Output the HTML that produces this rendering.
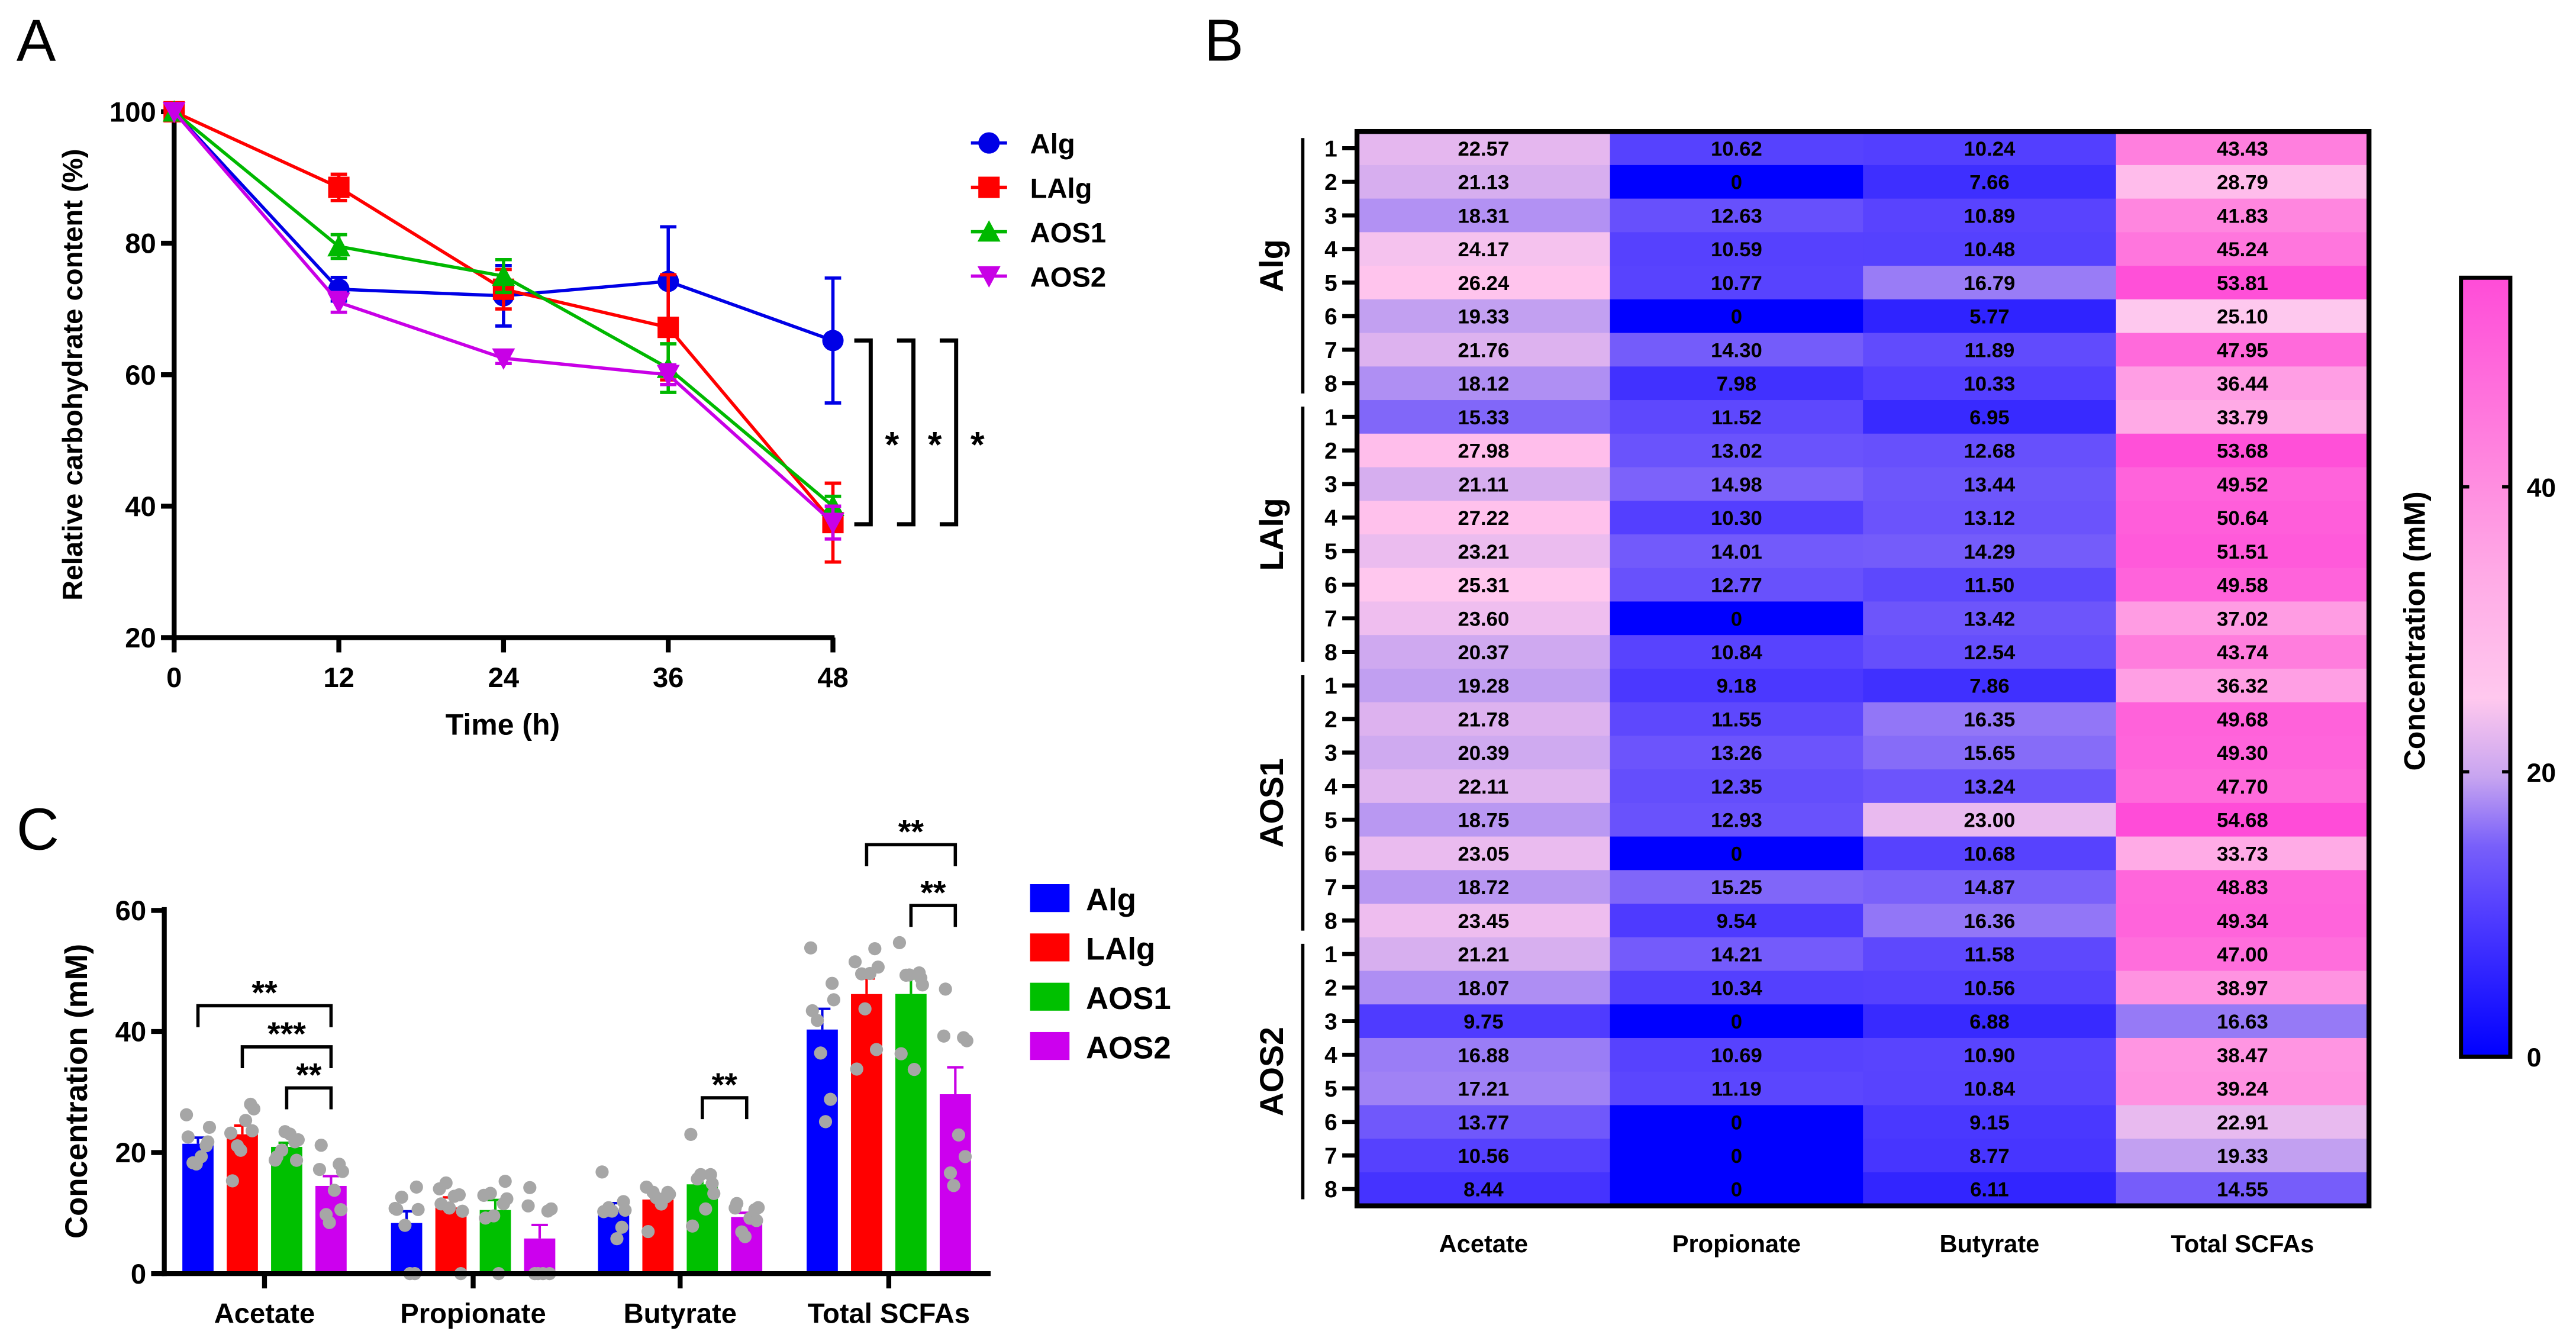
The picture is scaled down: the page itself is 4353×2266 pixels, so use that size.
<!DOCTYPE html>
<html><head><meta charset="utf-8"><style>
html,body{margin:0;padding:0;background:#fff}
svg{display:block}
text{font-family:"Liberation Sans",Arial,sans-serif;font-weight:bold;fill:#000}
</style></head><body>
<svg id="fig" xmlns="http://www.w3.org/2000/svg" width="4353" height="2266" viewBox="0 0 1568 816" preserveAspectRatio="none">
<rect x="0" y="0" width="1568" height="816" fill="#fff"/>
<text x="10" y="37" font-size="36" font-weight="normal" style="font-weight:normal">A</text>
<text x="733" y="37" font-size="36" style="font-weight:normal">B</text>
<text x="10" y="517" font-size="36" style="font-weight:normal">C</text>
<g id="pa"></g>
<g id="pc"></g>
<g id="pb"></g>
</svg>
<script>
// ---------- Panel A data ----------
const aTimes = [0, 12, 24, 36, 48];
const aSeriesNames = ["Alg", "LAlg", "AOS1", "AOS2"];
const aAlg = [100, 73, 72, 74.2, 65.2];
const aAlgErr = [0, 1.8, 4.6, 8.3, 9.5];
const aLAlg = [100, 88.5, 73, 67.2, 37.5];
const aLAlgErr = [0, 2, 3, 8, 6];
const aAOS1 = [100, 79.5, 75, 61, 40];
const aAOS1Err = [0, 1.8, 2.5, 3.7, 1.5];
const aAOS2 = [100, 71, 62.5, 60, 37.5];
const aAOS2Err = [0, 1.5, 0.8, 1.5, 2.5];
const aYTicks = [20, 40, 60, 80, 100];

// ---------- Heatmap / bar data ----------
const hmColumns = ["Acetate", "Propionate", "Butyrate", "Total SCFAs"];
const hmGroups = ["Alg", "LAlg", "AOS1", "AOS2"];
const acetate = [22.57,21.13,18.31,24.17,26.24,19.33,21.76,18.12, 15.33,27.98,21.11,27.22,23.21,25.31,23.60,20.37, 19.28,21.78,20.39,22.11,18.75,23.05,18.72,23.45, 21.21,18.07,9.75,16.88,17.21,13.77,10.56,8.44];
const propionate = [10.62,0,12.63,10.59,10.77,0,14.30,7.98, 11.52,13.02,14.98,10.30,14.01,12.77,0,10.84, 9.18,11.55,13.26,12.35,12.93,0,15.25,9.54, 14.21,10.34,0,10.69,11.19,0,0,0];
const butyrate = [10.24,7.66,10.89,10.48,16.79,5.77,11.89,10.33, 6.95,12.68,13.44,13.12,14.29,11.50,13.42,12.54, 7.86,16.35,15.65,13.24,23.00,10.68,14.87,16.36, 11.58,10.56,6.88,10.90,10.84,9.15,8.77,6.11];
const totalScfa = [43.43,28.79,41.83,45.24,53.81,25.10,47.95,36.44, 33.79,53.68,49.52,50.64,51.51,49.58,37.02,43.74, 36.32,49.68,49.30,47.70,54.68,33.73,48.83,49.34, 47.00,38.97,16.63,38.47,39.24,22.91,19.33,14.55];
const cbTicks = [0, 20, 40];
const cYTicks = [0, 20, 40, 60];

const NS = "http://www.w3.org/2000/svg";
function mk(parent, tag, attrs, txt) {
  const e = document.createElementNS(NS, tag);
  for (const k in attrs) e.setAttribute(k, attrs[k]);
  if (txt !== undefined) e.textContent = txt;
  parent.appendChild(e);
  return e;
}
const colors = ["#0000e6", "#ff0000", "#00b800", "#c800e6"];

// ================= Panel A =================
(function () {
  const g = document.getElementById("pa");
  const xA = t => 106 + t * (401 / 48);
  const yA = v => 388 - (v - 20) * 4;
  const series = [aAlg, aLAlg, aAOS1, aAOS2];
  const errs = [aAlgErr, aLAlgErr, aAOS1Err, aAOS2Err];
  // axes
  let ax = mk(g, "line", {x1: 106, y1: 66, x2: 106, y2: 389.5, stroke: "#000", "stroke-width": 3});
   
  ax = mk(g, "line", {x1: 104.5, y1: 388, x2: 508, y2: 388, stroke: "#000", "stroke-width": 3});
   
  aYTicks.forEach(v => {
    mk(g, "line", {x1: 98, y1: yA(v), x2: 106, y2: yA(v), stroke: "#000", "stroke-width": 3});
    const t = mk(g, "text", {x: 95, y: yA(v) + 6, "font-size": 17, "text-anchor": "end"}, v);
     
  });
  aTimes.forEach(tm => {
    mk(g, "line", {x1: xA(tm), y1: 388, x2: xA(tm), y2: 397, stroke: "#000", "stroke-width": 3});
    const t = mk(g, "text", {x: xA(tm), y: 418, "font-size": 17, "text-anchor": "middle"}, tm);
     
  });
  let t = mk(g, "text", {x: 306, y: 447, "font-size": 18, "text-anchor": "middle"}, "Time (h)");
   
  t = mk(g, "text", {x: 0, y: 0, "font-size": 17, "text-anchor": "middle", transform: "translate(50,228) rotate(-90)"}, "Relative carbohydrate content (%)");
   
  function marker(p, i, x, y, name) {
    let m;
    if (i === 0) m = mk(p, "circle", {cx: x, cy: y, r: 6.5, fill: colors[i]});
    else if (i === 1) m = mk(p, "rect", {x: x - 6.5, y: y - 6.5, width: 13, height: 13, fill: colors[i]});
    else if (i === 2) m = mk(p, "polygon", {points: `${x},${y-7} ${x+7},${y+6} ${x-7},${y+6}`, fill: colors[i]});
    else m = mk(p, "polygon", {points: `${x},${y+7} ${x+7},${y-6} ${x-7},${y-6}`, fill: colors[i]});
     
  }
  series.forEach((s, i) => {
    const sg = mk(g, "g", {});
     
    const pts = s.map((v, k) => xA(aTimes[k]) + "," + yA(v)).join(" ");
    const pl = mk(sg, "polyline", {points: pts, fill: "none", stroke: colors[i], "stroke-width": 2});
     
    s.forEach((v, k) => {
      const e = errs[i][k];
      if (e > 0) {
        const x = xA(aTimes[k]);
        const eb = mk(sg, "path", {d: `M${x},${yA(v+e)}V${yA(v-e)}M${x-5},${yA(v+e)}H${x+5}M${x-5},${yA(v-e)}H${x+5}`, stroke: colors[i], "stroke-width": 2, fill: "none"});
         
      }
      marker(sg, i, xA(aTimes[k]), yA(v), 'a-point');
    });
  });
  // significance brackets
  const yTop = yA(aAlg[4]) , yBot = yA(aLAlg[4]) + 1;
  [530, 556, 582].forEach((bx, j) => {
    const b = mk(g, "path", {d: `M${bx-10},${yTop}H${bx}V${yBot}H${bx-10}`, stroke: "#000", "stroke-width": 2.5, fill: "none"});
     
    const s = mk(g, "text", {x: bx + 13, y: 278, "font-size": 22, "text-anchor": "middle"}, "*");
     
  });
  // legend
  aSeriesNames.forEach((n, i) => {
    const y = 87 + i * 27;
    const lg = mk(g, "g", {});
     
    mk(lg, "line", {x1: 591, y1: y, x2: 613, y2: y, stroke: colors[i], "stroke-width": 2});
    marker(lg, i, 602, y, 'a-legend-marker');
    mk(lg, "text", {x: 627, y: y + 6.5, "font-size": 17}, n);
  });
})();

// ================= Panel C =================
(function () {
  const g = document.getElementById("pc");
  const yC = v => 775 - v * (221 / 60);
  const groupX = [161, 288, 414, 541];
  const offs = [-40.5, -13.5, 13.5, 40.5];
  const bw = 19;
  const cols = [acetate, propionate, butyrate, totalScfa];
  let ax = mk(g, "line", {x1: 100, y1: 552, x2: 100, y2: 776.5, stroke: "#000", "stroke-width": 3});
   
  cYTicks.forEach(v => {
    mk(g, "line", {x1: 92, y1: yC(v), x2: 100, y2: yC(v), stroke: "#000", "stroke-width": 3});
    const t = mk(g, "text", {x: 89, y: yC(v) + 6, "font-size": 17, "text-anchor": "end"}, v);
     
  });
  let t = mk(g, "text", {x: 0, y: 0, "font-size": 19, "text-anchor": "middle", transform: "translate(53,664) rotate(-90)"}, "Concentration (mM)");
   
  const jit = [-6, 5, -3, 7, -7, 2, 6, -1];
  hmColumns.forEach((c, ci) => {
    const cg = mk(g, "g", {});
     
    hmGroups.forEach((gn, gi) => {
      const vals = cols[ci].slice(gi * 8, gi * 8 + 8);
      const mean = vals.reduce((a, b) => a + b, 0) / 8;
      const sd = Math.sqrt(vals.reduce((a, b) => a + (b - mean) ** 2, 0) / 7);
      const sem = sd / Math.sqrt(8);
      const cx = groupX[ci] + offs[gi];
      const bar = mk(cg, "rect", {x: cx - bw / 2, y: yC(mean), width: bw, height: yC(0) - yC(mean), fill: colors[gi] === "#0000e6" ? "#0000ff" : (gi === 2 ? "#00c000" : (gi === 3 ? "#cc00ee" : "#ff0000"))});
       
      const eb = mk(cg, "path", {d: `M${cx},${yC(mean)}V${yC(mean+sem)}M${cx-5},${yC(mean+sem)}H${cx+5}`, stroke: colors[gi], "stroke-width": 1.5, fill: "none"});
       
      vals.forEach((v, k) => {
        const d = mk(cg, "circle", {cx: cx + jit[k], cy: yC(v), r: 4, fill: "#a6a6a6"});
         
      });
    });
    mk(g, "line", {x1: groupX[ci], y1: 775, x2: groupX[ci], y2: 784, stroke: "#000", "stroke-width": 3});
    const lt = mk(g, "text", {x: groupX[ci], y: 805, "font-size": 17, "text-anchor": "middle"}, c);
     
  });
  ax = mk(g, "line", {x1: 98.5, y1: 775, x2: 603, y2: 775, stroke: "#000", "stroke-width": 3});
   
  // significance
  const sig = [
    [161 - 40.5, 161 + 40.5, 612, "**"],
    [161 - 13.5, 161 + 40.5, 637, "***"],
    [161 + 13.5, 161 + 40.5, 662, "**"],
    [414 + 13.5, 414 + 40.5, 668, "**"],
    [541 - 13.5, 541 + 40.5, 514, "**"],
    [541 + 13.5, 541 + 40.5, 551, "**"]
  ];
  sig.forEach(s => {
    const b = mk(g, "path", {d: `M${s[0]},${s[2]+13}V${s[2]}H${s[1]}V${s[2]+13}`, stroke: "#000", "stroke-width": 2, fill: "none"});
     
    const st = mk(g, "text", {x: (s[0] + s[1]) / 2, y: s[2] - 1, "font-size": 20, "text-anchor": "middle"}, s[3]);
     
  });
  const lcols = ["#0000ff", "#ff0000", "#00c000", "#cc00ee"];
  hmGroups.forEach((n, i) => {
    const y = 538 + i * 30;
    const lg = mk(g, "g", {});
     
    mk(lg, "rect", {x: 627, y: y, width: 24, height: 17, fill: lcols[i]});
    mk(lg, "text", {x: 661, y: y + 16, "font-size": 19}, n);
  });
})();

// ================= Panel B heatmap =================
(function () {
  const g = document.getElementById("pb");
  const x0 = 826, y0 = 80, cw = 154, rh = 20.43;
  const cols = [acetate, propionate, butyrate, totalScfa];
  const vmax = 54.68;
  const stops = [[0, [0, 0, 255]], [0.18, [80, 60, 255]], [0.27, [120, 95, 250]], [0.36, [200, 165, 240]], [0.46, [255, 200, 238]], [0.62, [255, 170, 230]], [0.78, [255, 130, 222]], [1, [255, 76, 216]]];
  function color(v) {
    const f = Math.max(0, Math.min(1, v / vmax));
    for (let i = 1; i < stops.length; i++) {
      if (f <= stops[i][0]) {
        const a = stops[i - 1], b = stops[i];
        const u = (f - a[0]) / (b[0] - a[0]);
        const c = a[1].map((q, k) => Math.round(q + (b[1][k] - q) * u));
        return `rgb(${c[0]},${c[1]},${c[2]})`;
      }
    }
    return "rgb(255,76,216)";
  }
  cols.forEach((arr, ci) => {
    arr.forEach((v, r) => {
      const cell = mk(g, "rect", {x: x0 + ci * cw, y: y0 + r * rh, width: cw + 0.5, height: rh + 0.5, fill: color(v)});
       
      const t = mk(g, "text", {x: x0 + ci * cw + cw / 2, y: y0 + r * rh + rh / 2 + 4.5, "font-size": 12.5, "text-anchor": "middle"}, v === 0 ? "0" : v.toFixed(2));
       
    });
    const lt = mk(g, "text", {x: x0 + ci * cw + cw / 2, y: 762, "font-size": 15, "text-anchor": "middle"}, hmColumns[ci]);
     
  });
  const frame = mk(g, "rect", {x: x0, y: y0, width: cw * 4, height: rh * 32, fill: "none", stroke: "#000", "stroke-width": 3});
   
  for (let r = 0; r < 32; r++) {
    const y = y0 + r * rh + rh / 2;
    mk(g, "line", {x1: 817, y1: y, x2: x0, y2: y, stroke: "#000", "stroke-width": 2.5});
    const t = mk(g, "text", {x: 814, y: y + 5, "font-size": 14, "text-anchor": "end"}, (r % 8) + 1);
     
  }
  hmGroups.forEach((n, gi) => {
    const ya = y0 + gi * 8 * rh + 4, yb = y0 + (gi * 8 + 8) * rh - 4;
    const l = mk(g, "line", {x1: 793, y1: ya, x2: 793, y2: yb, stroke: "#000", "stroke-width": 2});
     
    const t = mk(g, "text", {x: 0, y: 0, "font-size": 20, "text-anchor": "middle", transform: `translate(781,${(ya + yb) / 2}) rotate(-90)`}, n);
     
  });
  // colorbar
  const cbx = 1498, cbTop = 169, cbBot = 643, cbw = 30;
  const yCb = v => cbBot - (v / vmax) * (cbBot - cbTop);
  const defs = mk(g, "defs", {});
  const lg = mk(defs, "linearGradient", {id: "cbg", x1: 0, y1: 1, x2: 0, y2: 0});
  stops.forEach(s => mk(lg, "stop", {offset: s[0], "stop-color": `rgb(${s[1].join(",")})`}));
  const cb = mk(g, "rect", {x: cbx, y: cbTop, width: cbw, height: cbBot - cbTop, fill: "url(#cbg)", stroke: "#000", "stroke-width": 2.5});
   
  cbTicks.forEach(v => {
    if (v > 0) {
      mk(g, "line", {x1: cbx, y1: yCb(v), x2: cbx + 5, y2: yCb(v), stroke: "#000", "stroke-width": 2});
      mk(g, "line", {x1: cbx + cbw - 5, y1: yCb(v), x2: cbx + cbw, y2: yCb(v), stroke: "#000", "stroke-width": 2});
    }
    const t = mk(g, "text", {x: 1538, y: yCb(v) + 6, "font-size": 16}, v);
     
  });
  const ct = mk(g, "text", {x: 0, y: 0, "font-size": 18, "text-anchor": "middle", transform: "translate(1476,384) rotate(-90)"}, "Concentration (mM)");
   
})();
</script>
</body></html>
